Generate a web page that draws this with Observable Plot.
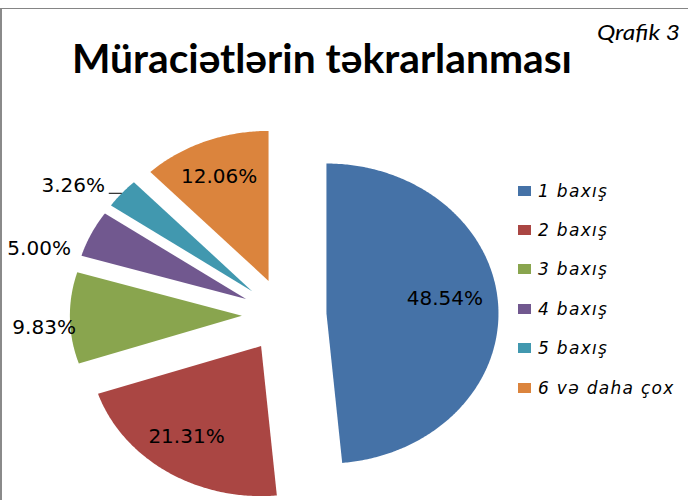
<!DOCTYPE html>
<html><head><meta charset="utf-8">
<script src="https://cdn.jsdelivr.net/npm/d3@7"></script>
<script src="https://cdn.jsdelivr.net/npm/@observablehq/plot@0.6"></script>
<style>
body{margin:0;background:#fff;}
#wrap{position:relative;width:692px;height:500px;overflow:hidden;font-family:"DejaVu Sans",sans-serif;background:#fff;}
#frame{position:absolute;left:0px;top:8px;width:688px;height:500px;border-top:1px solid #858585;border-left:2px solid #8a8a8a;box-sizing:border-box;}
#title{position:absolute;left:72px;top:35px;font-family:Lato,"Open Sans",sans-serif;font-weight:bold;font-size:40px;line-height:46px;white-space:nowrap;transform-origin:0 0;color:#000;}
#qrafik{position:absolute;left:597px;top:19px;font-family:Lato,sans-serif;font-style:italic;font-size:22px;line-height:26px;white-space:nowrap;transform-origin:0 0;color:#000;}
#legend{position:absolute;left:518px;top:171px;}
.item{height:39.4px;display:flex;align-items:center;white-space:nowrap;}
.sw{width:13px;height:10px;margin-right:7px;flex:none;}
.lab{font-family:"DejaVu Sans",sans-serif;font-style:italic;font-size:17px;letter-spacing:1.3px;color:#000;}
#chart{position:absolute;left:0;top:0;}
</style>
</head><body>
<div id="wrap">
  <div id="frame"></div>
  <div id="chart"></div>
  <div id="title"></div>
  <div id="qrafik"></div>
  <div id="legend"></div>
</div>
<script>
// ---- data ----
const chartTitle = "Müraciətlərin təkrarlanması";
const chartTag = "Qrafik 3";
const categories = ["1 baxış", "2 baxış", "3 baxış", "4 baxış", "5 baxış", "6 və daha çox"];
const shares = [48.54, 21.31, 9.83, 5.00, 3.26, 12.06];
const shareLabels = ["48.54%", "21.31%", "9.83%", "5.00%", "3.26%", "12.06%"];
const colors = ["#4572A7", "#AA4643", "#89A54E", "#71588F", "#4198AF", "#DB843D"];

// ---- layout (not data) ----
const cx = 283.7, cy = 314.7, rx = 172, ry = 150;
const explode = 0.246;
const labelNudge = [[-7,-10],[-6,-1],[0,9],[-29,25],[-29,7],[-3,-3]];

const total = d3.sum(shares);
let acc = 0;
const slices = shares.map((v, i) => {
  const a0 = acc / total * 2 * Math.PI; acc += v;
  const a1 = acc / total * 2 * Math.PI;
  const mid = (a0 + a1) / 2;
  return {cat: categories[i], label: shareLabels[i], value: v, a0, a1, mid,
          ox: explode * Math.sin(mid), oy: explode * Math.cos(mid), i};
});
const pts = slices.flatMap(s => {
  const n = Math.max(4, Math.ceil((s.a1 - s.a0) / 0.01));
  const arr = [{cat: s.cat, x: s.ox, y: s.oy}];
  for (let k = 0; k <= n; k++) {
    const a = s.a0 + (s.a1 - s.a0) * k / n;
    arr.push({cat: s.cat, x: s.ox + Math.sin(a), y: s.oy + Math.cos(a)});
  }
  return arr;
});
const labelPts = slices.map(s => {
  const r = s.value >= 10 ? 0.73 : 1.15;
  return {label: s.label, x: s.ox + r * Math.sin(s.mid), y: s.oy + r * Math.cos(s.mid),
          dx: labelNudge[s.i][0], dy: labelNudge[s.i][1]};
});
const tiny = slices.filter(s => s.value < 4).map(s => {
  const ex = s.ox + Math.sin(s.mid), ey = s.oy + Math.cos(s.mid);
  return {x1: ex, y1: ey, x2: ex - 13 / rx, y2: ey};
});

const chart = Plot.plot({
  width: 692, height: 500,
  style: {background: "transparent", overflow: "visible"},
  x: {domain: [-1, 1], range: [cx - rx, cx + rx], axis: null},
  y: {domain: [-1, 1], range: [cy + ry, cy - ry], axis: null},
  color: {domain: categories, range: colors},
  marks: [
    Plot.line(pts, {x: "x", y: "y", z: "cat", fill: "cat", stroke: "none", curve: "linear-closed"}),
    Plot.link(tiny, {x1: "x1", y1: "y1", x2: "x2", y2: "y2", stroke: "#000", strokeWidth: 1}),
    ...labelPts.map(d => Plot.text([d], {x: "x", y: "y", text: "label", dx: d.dx, dy: d.dy,
      fontFamily: "DejaVu Sans", fontSize: 20, fill: "#000"}))
  ]
});
document.getElementById("chart").appendChild(chart);

const t = document.getElementById("title");
t.textContent = chartTitle;
const tw = t.getBoundingClientRect().width;
t.style.transform = `scaleX(${500 / tw})`;
const q = document.getElementById("qrafik");
q.textContent = chartTag;
const qw = q.getBoundingClientRect().width;
q.style.transform = `scaleX(${83 / qw})`;

const lg = document.getElementById("legend");
categories.forEach((c, i) => {
  const it = document.createElement("div"); it.className = "item";
  const sw = document.createElement("div"); sw.className = "sw"; sw.style.background = colors[i];
  const lb = document.createElement("span"); lb.className = "lab"; lb.textContent = c;
  it.appendChild(sw); it.appendChild(lb); lg.appendChild(it);
});
</script>
</body></html>
